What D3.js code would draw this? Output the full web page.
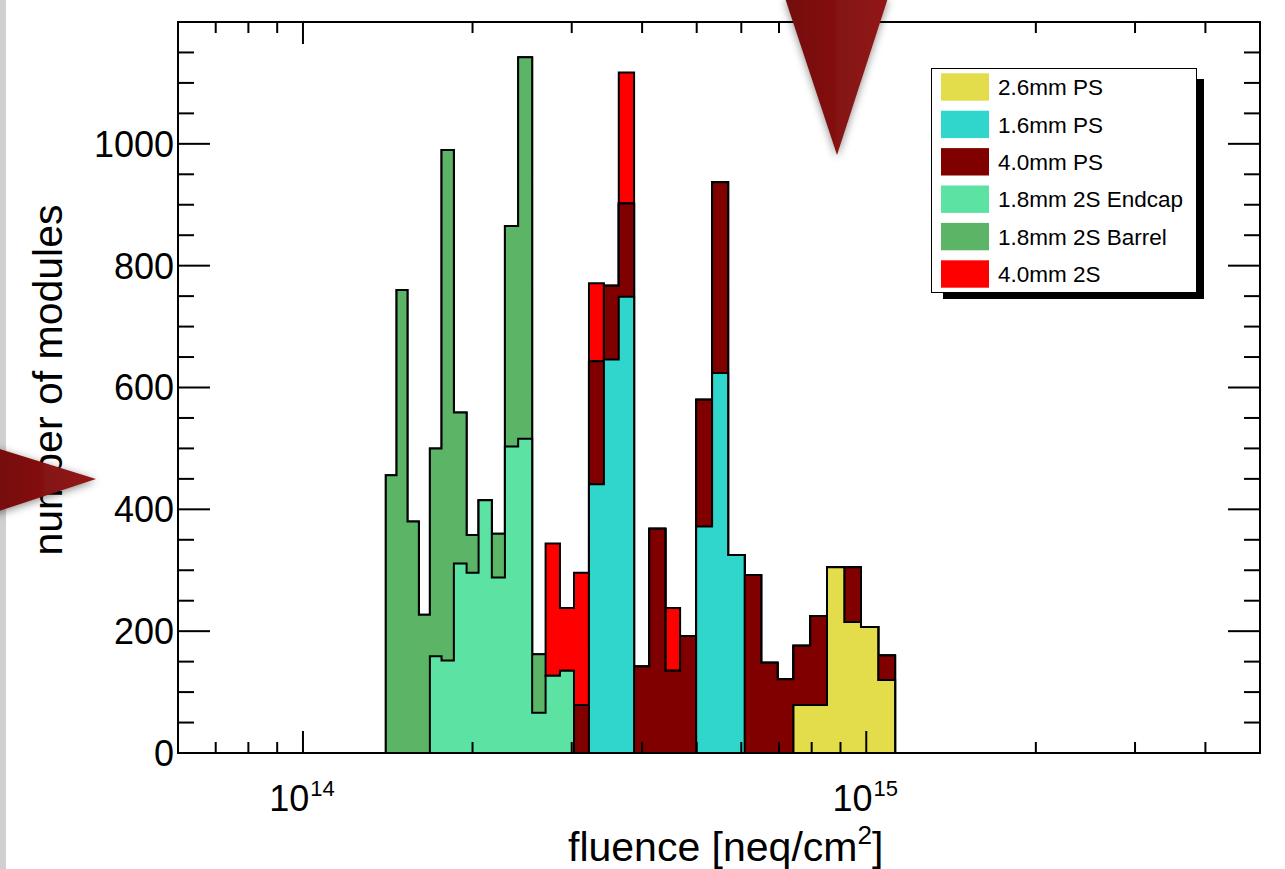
<!DOCTYPE html>
<html>
<head>
<meta charset="utf-8">
<script src="https://cdn.jsdelivr.net/npm/d3@7/dist/d3.min.js"></script>
<style>
  html, body { margin: 0; padding: 0; background: #ffffff; }
  svg { display: block; font-family: "Liberation Sans", Arial, Helvetica, sans-serif; }
</style>
</head>
<body>
<svg id="chart" width="1285" height="869"></svg>
<script>
// Bin edges of the fluence histogram, in units of 1e14 neq/cm^2
const binEdges = [1.403, 1.466, 1.533, 1.606, 1.680, 1.762, 1.853, 1.952, 2.050, 2.164,
                  2.283, 2.410, 2.552, 2.696, 2.859, 3.028, 3.219, 3.422, 3.636, 3.871,
                  4.120, 4.399, 4.672, 4.989, 5.325, 5.685, 6.083, 6.508, 6.958, 7.426,
                  7.953, 8.517, 9.141, 9.786, 10.50, 11.25];

// Module counts per bin for each module type (stacked bottom to top)
const ps26mm   = [0,0,0,0,0, 0,0,0,0,0, 0,0,0,0,0, 0,0,0,0,0, 0,0,0,0,0, 0,0,0,0,79, 79,305,215,207,120];
const ps16mm   = [0,0,0,0,0, 0,0,0,0,0, 0,0,0,0,0, 0,441,646,749,0, 0,0,0,372,624, 325,0,0,0,0, 0,0,0,0,0];
const ps40mm   = [0,0,0,0,0, 0,0,0,0,0, 0,0,0,0,0, 79,202,121,153,142, 368,135,192,208,313, 0,292,148,121,97, 146,0,90,0,40];
const ss18End  = [0,0,0,0,159, 152,311,296,415,288, 503,516,66,127,135, 0,0,0,0,0, 0,0,0,0,0, 0,0,0,0,0, 0,0,0,0,0];
const ss18Bar  = [456,760,380,227,341, 838,248,62,0,72, 362,626,96,0,0, 0,0,0,0,0, 0,0,0,0,0, 0,0,0,0,0, 0,0,0,0,0];
const ss40mm   = [0,0,0,0,0, 0,0,0,0,0, 0,0,0,217,103, 217,128,0,215,0, 0,103,0,0,0, 0,0,0,0,0, 0,0,0,0,0];

const seriesNames  = ["2.6mm PS", "1.6mm PS", "4.0mm PS", "1.8mm 2S Endcap", "1.8mm 2S Barrel", "4.0mm 2S"];
const seriesColors = ["#e3dd4b", "#30d6cc", "#800000", "#5ce2a2", "#5cb566", "#ff0000"];
const seriesValues = [ps26mm, ps16mm, ps40mm, ss18End, ss18Bar, ss40mm];

// Axis ticks
const xMajorTicks = [1e14, 1e15];
const xMajorExp   = ["14", "15"];
const xMinorTicks = [6e13, 7e13, 8e13, 9e13, 2e14, 3e14, 4e14, 5e14, 6e14, 7e14, 8e14, 9e14, 2e15, 3e15, 4e15, 5e15];
const yMajorTicks = [0, 200, 400, 600, 800, 1000];
const yMinorTicks = [50, 100, 150, 250, 300, 350, 450, 500, 550, 650, 700, 750, 850, 900, 950, 1050, 1100, 1150];

const svg = d3.select("#chart");
const frame = { left: 178, right: 1260, top: 22, bottom: 753 };

const x = d3.scaleLog().domain([6e13, 5e15]).range([frame.left, frame.right]);
const y = d3.scaleLinear().domain([0, 1200]).range([frame.bottom, frame.top]);

// page background details
svg.append("rect").attr("x", 0).attr("y", 0).attr("width", 1285).attr("height", 869).attr("fill", "#ffffff");
svg.append("rect").attr("x", 0).attr("y", 0).attr("width", 6).attr("height", 869).attr("fill", "#d0d0d0");

// cumulative stacks
const nBins = binEdges.length - 1;
const cumulative = [];
let running = new Array(nBins).fill(0);
seriesValues.forEach(vals => {
  running = running.map((r, i) => r + vals[i]);
  cumulative.push(running.slice());
});

const area = d3.area()
  .x(d => x(d.x * 1e14))
  .y0(y(0))
  .y1(d => y(d.y));

// draw the tallest stack first so each lower level paints over it
const gHist = svg.append("g");
for (let k = cumulative.length - 1; k >= 0; k--) {
  const pts = [];
  for (let i = 0; i < nBins; i++) {
    pts.push({ x: binEdges[i], y: cumulative[k][i] });
    pts.push({ x: binEdges[i + 1], y: cumulative[k][i] });
  }
  gHist.append("path")
    .datum(pts)
    .attr("d", area)
    .attr("fill", seriesColors[k])
    .attr("stroke", "#000")
    .attr("stroke-width", 2)
    .attr("stroke-linejoin", "miter");
}

// axes with inward ticks on all four sides
const gAxes = svg.append("g").attr("stroke", "#000");
function tickLines(vals, fn) { vals.forEach(fn); }

tickLines(xMajorTicks, v => {
  gAxes.append("line").attr("x1", x(v)).attr("x2", x(v)).attr("y1", frame.bottom).attr("y2", frame.bottom - 22).attr("stroke-width", 2);
  gAxes.append("line").attr("x1", x(v)).attr("x2", x(v)).attr("y1", frame.top).attr("y2", frame.top + 22).attr("stroke-width", 2);
});
tickLines(xMinorTicks, v => {
  gAxes.append("line").attr("x1", x(v)).attr("x2", x(v)).attr("y1", frame.bottom).attr("y2", frame.bottom - 11).attr("stroke-width", 2);
  gAxes.append("line").attr("x1", x(v)).attr("x2", x(v)).attr("y1", frame.top).attr("y2", frame.top + 11).attr("stroke-width", 2);
});
tickLines(yMajorTicks, v => {
  gAxes.append("line").attr("x1", frame.left).attr("x2", frame.left + 32).attr("y1", y(v)).attr("y2", y(v)).attr("stroke-width", 2);
  gAxes.append("line").attr("x1", frame.right).attr("x2", frame.right - 32).attr("y1", y(v)).attr("y2", y(v)).attr("stroke-width", 2);
});
tickLines(yMinorTicks, v => {
  gAxes.append("line").attr("x1", frame.left).attr("x2", frame.left + 16).attr("y1", y(v)).attr("y2", y(v)).attr("stroke-width", 2);
  gAxes.append("line").attr("x1", frame.right).attr("x2", frame.right - 16).attr("y1", y(v)).attr("y2", y(v)).attr("stroke-width", 2);
});

svg.append("rect")
  .attr("x", frame.left).attr("y", frame.top)
  .attr("width", frame.right - frame.left).attr("height", frame.bottom - frame.top)
  .attr("fill", "none").attr("stroke", "#000").attr("stroke-width", 2);

// y tick labels
svg.append("g").selectAll("text").data(yMajorTicks).join("text")
  .attr("x", frame.left - 4)
  .attr("y", d => y(d))
  .attr("dy", "0.36em")
  .attr("text-anchor", "end")
  .attr("font-size", 36)
  .text(d => d);

// x tick labels: 10^n
const xl = svg.append("g");
xMajorTicks.forEach((v, i) => {
  const t = xl.append("text")
    .attr("x", x(v) - 1)
    .attr("y", 811)
    .attr("text-anchor", "middle")
    .attr("font-size", 36);
  t.append("tspan").text("10");
  t.append("tspan").attr("font-size", 22).attr("dy", -15).attr("dx", 1).text(xMajorExp[i]);
});

// axis titles
const xt = svg.append("text")
  .attr("x", 568).attr("y", 861)
  .attr("font-size", 41);
xt.append("tspan").text("fluence [neq/cm");
xt.append("tspan").attr("font-size", 26).attr("dx", 0).attr("dy", -17).text("2");
xt.append("tspan").attr("dx", 0).attr("dy", 17).text("]");

svg.append("text")
  .attr("transform", "translate(62,380) rotate(-90)")
  .attr("text-anchor", "middle")
  .attr("font-size", 41)
  .text("number of modules");

// legend
const leg = svg.append("g");
leg.append("rect").attr("x", 943).attr("y", 79).attr("width", 261).attr("height", 220).attr("fill", "#000");
leg.append("rect").attr("x", 931.5).attr("y", 68.5).attr("width", 265).attr("height", 224)
  .attr("fill", "#fff").attr("stroke", "#000").attr("stroke-width", 1);
seriesNames.forEach((name, i) => {
  const cy = 87 + i * 37.4;
  leg.append("rect").attr("x", 941).attr("y", cy - 13.7).attr("width", 48).attr("height", 27.4).attr("fill", seriesColors[i]);
  leg.append("text").attr("x", 998).attr("y", cy).attr("dy", "0.36em").attr("font-size", 22.5).text(name);
});

// highlight arrows overlaid on the figure
const defs = svg.append("defs");
const grad = defs.append("linearGradient").attr("id", "arrowGrad").attr("x1", "0%").attr("x2", "100%").attr("y1", "0%").attr("y2", "0%");
grad.append("stop").attr("offset", "0%").attr("stop-color", "#740b0b");
grad.append("stop").attr("offset", "100%").attr("stop-color", "#931818");
const shadow = defs.append("filter").attr("id", "arrowShadow").attr("x", "-50%").attr("y", "-50%").attr("width", "200%").attr("height", "200%");
shadow.append("feDropShadow").attr("dx", 0).attr("dy", 2).attr("stdDeviation", 4).attr("flood-color", "#000").attr("flood-opacity", 0.45);

svg.append("path")
  .attr("d", "M785,-2 L888,-2 L837,155 Z")
  .attr("fill", "url(#arrowGrad)")
  .attr("filter", "url(#arrowShadow)");
svg.append("path")
  .attr("d", "M-10,446 L96,479 L-10,514 Z")
  .attr("fill", "url(#arrowGrad)")
  .attr("filter", "url(#arrowShadow)");
</script>
</body>
</html>
